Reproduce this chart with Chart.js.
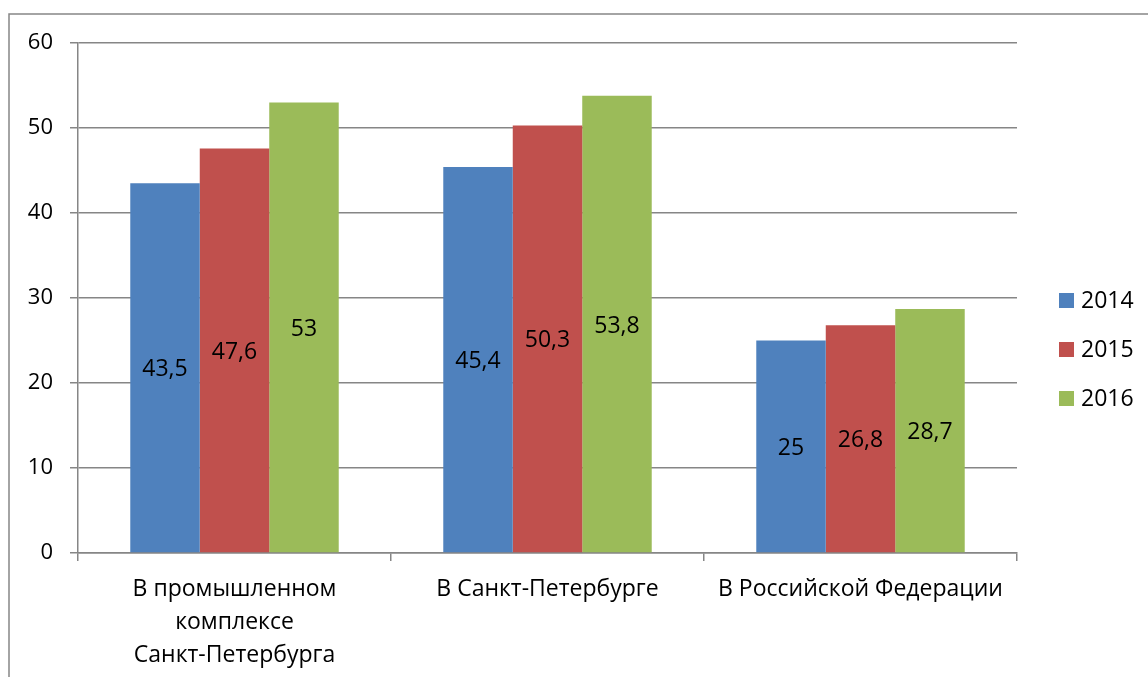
<!DOCTYPE html>
<html lang="ru">
<head>
<meta charset="UTF-8">
<title>Chart</title>
<style>
  html, body { margin: 0; padding: 0; background: #ffffff; }
  .wrap { width: 1148px; height: 677px; position: relative; }
</style>
</head>
<body>
<div class="wrap"><canvas id="plot" width="1148" height="677"></canvas></div>
<script src="https://cdn.jsdelivr.net/npm/chart.js"></script>
<script>
const categories = [
  ['В промышленном', 'комплексе', 'Санкт-Петербурга'],
  'В Санкт-Петербурге',
  'В Российской Федерации'
];
const years = ['2014', '2015', '2016'];
const values2014 = [43.5, 45.4, 25];
const values2015 = [47.6, 50.3, 26.8];
const values2016 = [53, 53.8, 28.7];
const yTicks = [0, 10, 20, 30, 40, 50, 60];

const colors = ['#4f81bd', '#c0504d', '#9bbb59'];
const font = 'Open Sans, sans-serif';
const grey = '#868686';

const datasets = [values2014, values2015, values2016].map((vals, i) => ({
  label: years[i],
  data: vals,
  backgroundColor: colors[i],
  borderWidth: 0,
  categoryPercentage: 0.666,
  barPercentage: 1.0,
}));

// values in the middle of each bar, with a decimal comma
const barLabels = {
  id: 'barLabels',
  afterDatasetsDraw(chart) {
    const ctx = chart.ctx;
    ctx.save();
    ctx.font = '23px ' + font;
    ctx.fillStyle = '#000';
    ctx.textAlign = 'center';
    ctx.textBaseline = 'middle';
    chart.data.datasets.forEach((ds, i) => {
      chart.getDatasetMeta(i).data.forEach((bar, j) => {
        const txt = String(ds.data[j]).replace('.', ',');
        ctx.fillText(txt, bar.x, (bar.y + bar.base) / 2 + 2);
      });
    });
    ctx.restore();
  }
};

// legend on the right, drawn beside the plot area
const sideLegend = {
  id: 'sideLegend',
  afterDraw(chart) {
    const ctx = chart.ctx;
    ctx.save();
    ctx.font = '23px ' + font;
    ctx.textBaseline = 'middle';
    years.forEach((y, i) => {
      const cy = 300 + i * 49;
      ctx.fillStyle = colors[i];
      ctx.fillRect(1059, cy - 7, 15, 15);
      ctx.fillStyle = '#000';
      ctx.fillText(y, 1081, cy + 1);
    });
    ctx.restore();
  }
};

// outer chart frame (only left and top edges visible)
const frame = {
  id: 'frame',
  beforeDraw(chart) {
    const ctx = chart.ctx;
    ctx.save();
    ctx.strokeStyle = grey;
    ctx.lineWidth = 1.5;
    ctx.beginPath();
    ctx.moveTo(9, 677);
    ctx.lineTo(9, 14);
    ctx.lineTo(1148, 14);
    ctx.stroke();
    ctx.restore();
  }
};

new Chart(document.getElementById('plot'), {
  type: 'bar',
  data: { labels: categories, datasets },
  plugins: [frame, barLabels, sideLegend],
  options: {
    responsive: false,
    animation: false,
    layout: { padding: { top: 43, right: 131, left: 0, bottom: 0 } },
    plugins: {
      legend: { display: false },
      tooltip: { enabled: false },
    },
    scales: {
      x: {
        afterFit(scale) { scale.height = 124; },
        grid: {
          offset: true,
          drawOnChartArea: false,
          color: grey,
          lineWidth: 1.5,
          tickLength: 8,
        },
        border: { color: grey, width: 1.5 },
        ticks: {
          color: '#000',
          padding: 12,
          maxRotation: 0,
          font: { family: font, size: 23, lineHeight: 1.44 },
        },
      },
      y: {
        min: 0,
        max: 60,
        afterFit(scale) { scale.width = 78; },
        afterBuildTicks(scale) { scale.ticks = yTicks.map(v => ({ value: v })); },
        grid: { color: grey, lineWidth: 1.5, tickLength: 8 },
        border: { color: grey, width: 1.5 },
        ticks: {
          color: '#000',
          padding: 17,
          font: { family: font, size: 22 },
        },
      },
    },
  },
});
</script>
</body>
</html>
